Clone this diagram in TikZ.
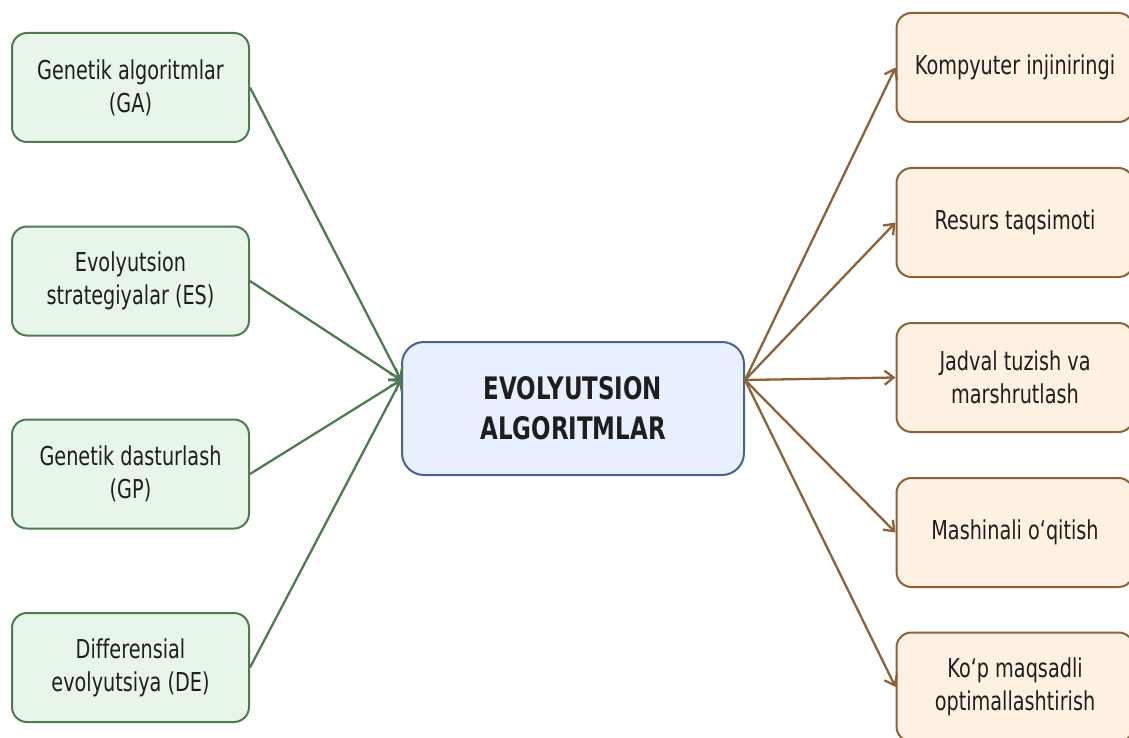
\documentclass[tikz,border=0pt]{standalone}
\usepackage{fontspec}
\setmainfont{DejaVu Sans}[FakeStretch=0.74, Ligatures=NoCommon]
\usepackage{tikz}
\usetikzlibrary{arrows.meta,positioning}
\usepackage{xcolor}

\definecolor{gaFill}{HTML}{E8F5E9}
\definecolor{gaLine}{HTML}{4E7C50}
\definecolor{hubFill}{HTML}{E8F0FD}
\definecolor{hubLine}{HTML}{4C6190}
\definecolor{useFill}{HTML}{FFF1E2}
\definecolor{useLine}{HTML}{8C6239}
\definecolor{txt}{HTML}{1E1E1E}

\begin{document}
\begin{tikzpicture}[x=1pt,y=-1pt]
                \tikzstyle{method} = [shape=rectangle, rounded corners=15pt, fill=gaFill, draw=gaLine, line width=2pt, minimum width=237pt, minimum height=109pt, align=center, text=txt, font=\fontsize{26}{33}\selectfont];
                \tikzstyle{usage} = [method, fill=useFill, draw=useLine];
                \tikzstyle{hub} = [method, rounded corners=22pt, fill=hubFill, draw=hubLine, minimum width=342pt, minimum height=133pt, font=\fontsize{31}{40}\selectfont\bfseries];
                \tikzstyle{link} = [-{Straight Barb[length=9pt,width=14pt]}, line width=2.3pt];

                \useasboundingbox (0,0) rectangle (1129,738);

                \node[hub](EA) at (573,408.5) {EVOLYUTSION\\ALGORITMLAR};
                \coordinate[above=28.5pt of EA.west] (inL);
                \coordinate[above=28.5pt of EA.east] (outR);

                \node[method](GA) at (130.5,87.5) {Genetik algoritmlar\\(GA)};
                \node[method](ES) at (130.5,281) {Evolyutsion\\strategiyalar (ES)};
                \node[method](GP) at (130.5,474) {Genetik dasturlash\\(GP)};
                \node[method](DE) at (130.5,667.5) {Differensial\\evolyutsiya (DE)};

                \node[usage](KI) at (1015,67.5) {Kompyuter injiniringi};
                \node[usage](RT) at (1015,222.5) {Resurs taqsimoti};
                \node[usage](JT) at (1015,377.5) {Jadval tuzish va\\marshrutlash};
                \node[usage](MO) at (1015,532.5) {Mashinali o‘qitish};
                \node[usage](KM) at (1015,687) {Ko‘p maqsadli\\optimallashtirish};

                \foreach \m in {GA,ES,GP,DE}
                    \draw[link, gaLine] (\m.east) -- (inL);
                \foreach \u in {KI,RT,JT,MO,KM}
                    \draw[link, useLine] (outR) -- (\u.west);
            \end{tikzpicture}
\end{document}
